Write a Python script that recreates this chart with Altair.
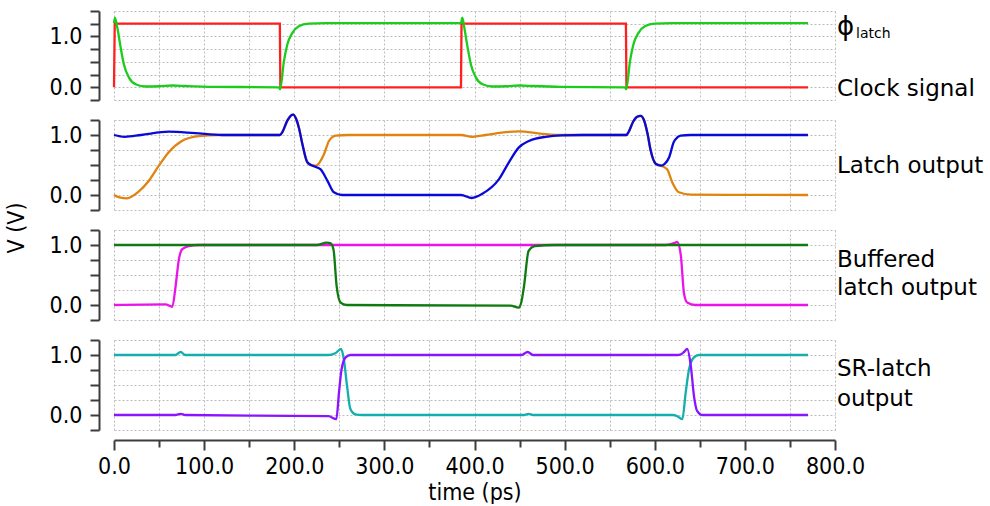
import altair as alt
import pandas as pd

# ---------------- data ----------------
# Panel 1: clock signal (red) and phi_latch (green)
T_CLK = [0, 0.8, 184, 184.6, 385, 385.6, 568, 568.6, 770]
V_CLK = [0, 1.25, 1.25, 0, 0, 1.25, 1.25, 0, 0]

T_PHI = [0, 1, 3.7, 7.4, 11, 16.6, 24, 35, 50, 65, 80, 110, 183, 184.3, 188.6, 192.3, 198, 205, 216, 235, 260,
         385, 386.5, 388.7, 392.4, 396, 401.6, 409, 420, 435, 450, 465, 495, 567, 568.3, 572.6, 576.3, 582, 589,
         600, 619, 770]
V_PHI = [1.26, 1.37, 1.17, 0.78, 0.45, 0.19, 0.06, 0.015, 0.02, 0.035, 0.025, 0.01, 0.0, -0.04, 0.52, 0.84,
         1.07, 1.2, 1.25, 1.26, 1.26,
         1.26, 1.37, 1.17, 0.78, 0.45, 0.19, 0.06, 0.015, 0.02, 0.035, 0.025, 0.01, 0.0, -0.04, 0.52, 0.84, 1.07,
         1.2, 1.25, 1.26, 1.26]

# Panel 2: latch outputs (orange, blue)
T_LQB = [0, 6, 14.6, 26, 38.3, 49.4, 60.5, 75.3, 93.8, 116, 184, 186.7, 192.3, 196, 199, 202, 205, 209, 214.5,
         220, 224, 233, 238.5, 246, 260, 385, 397.6, 412.4, 430, 449, 475, 497, 568.5, 571, 576, 580, 584.4, 588,
         592, 595.5, 601, 606.6, 613.7, 619.5, 626.8, 640, 770]
V_LQB = [0.0, -0.04, -0.055, 0.04, 0.23, 0.48, 0.71, 0.9, 0.98, 1.0, 1.0, 1.045, 1.24, 1.32, 1.34, 1.27, 1.13,
         0.85, 0.545, 0.49, 0.49, 0.68, 0.9, 0.99, 1.0, 1.0, 0.97, 1.0, 1.04, 1.06, 1.02, 1.0, 1.0, 1.05, 1.22,
         1.3, 1.32, 1.25, 1.02, 0.74, 0.52, 0.49, 0.43, 0.21, 0.045, 0.005, 0.0]

T_LQ = [0, 12, 30, 61, 90, 120, 184, 186.7, 192.3, 196, 199, 202, 205, 209, 214.5, 220, 229, 236.7, 244, 253,
        270, 385, 397, 408.7, 427, 438, 449, 460.4, 479, 497, 520, 568.5, 571, 576, 580, 584.4, 588, 592, 595.5,
        601, 606.6, 611, 616, 621, 625, 628.7, 640, 770]
V_LQ = [1.0, 0.97, 1.0, 1.055, 1.03, 1.0, 1.0, 1.045, 1.24, 1.32, 1.34, 1.27, 1.13, 0.85, 0.545, 0.49, 0.43,
        0.24, 0.045, 0.0, 0.0, 0.0, -0.05, 0.02, 0.26, 0.54, 0.79, 0.9, 0.97, 0.995, 1.0, 1.0, 1.05, 1.22, 1.3,
        1.32, 1.25, 1.02, 0.74, 0.52, 0.49, 0.52, 0.63, 0.88, 0.96, 0.99, 1.0, 1.0]

# Panel 3: buffered latch outputs (magenta, dark green)
T_BQB = [0, 57, 64.7, 68.4, 72, 75.8, 83, 94, 612, 621, 625, 629, 632.4, 636, 645, 770]
V_BQB = [0.0, 0.01, -0.03, 0.32, 0.76, 0.93, 0.98, 1.0, 1.0, 1.03, 1.05, 0.82, 0.2, 0.04, 0.0, 0.0]

T_BQ = [0, 225, 236, 240, 243.5, 247, 251.5, 258, 440, 449, 452, 455, 460, 467, 489, 770]
V_BQ = [1.0, 1.0, 1.04, 1.03, 0.93, 0.32, 0.04, 0.0, -0.01, -0.045, 0.05, 0.32, 0.9, 0.98, 1.0, 1.0]

# Panel 4: SR-latch outputs (cyan, purple)
T_SRQB = [0, 68, 74, 79, 238, 245.5, 252, 255, 258.6, 262.3, 268, 275, 455, 460, 465, 620, 625, 630.6, 634.3,
          638, 643.5, 649, 770]
V_SRQB = [1.0, 1.0, 1.05, 1.0, 1.0, 1.03, 1.1, 0.93, 0.48, 0.1, 0.01, 0.0, 0.0, 0.02, 0.0, 0.0, -0.02, -0.07,
          0.37, 0.76, 0.96, 1.0, 1.0]

T_SRQ = [0, 68, 74, 79, 238, 246.7, 249.6, 252.5, 257, 262.3, 270, 452, 459, 465, 625, 629, 632.4, 636, 640,
         643.5, 647, 653, 770]
V_SRQ = [0.0, 0.0, 0.02, 0.0, -0.02, -0.07, 0.37, 0.76, 0.96, 1.0, 1.0, 1.0, 1.05, 1.0, 1.0, 1.01, 1.05, 1.1,
         0.82, 0.32, 0.07, 0.0, 0.0]

LABELS = ["Clock signal", "Latch output", "Buffered", "latch output", "SR-latch", "output"]
PHI = "\u03d5"
PHI_SUB = "latch"
Y_TITLE = "V (V)"
X_TITLE = "time (ps)"

COLORS = {
    "clk": "#ff1f1f", "phi": "#1ccc1c", "lqb": "#e08410", "lq": "#0a0ad6",
    "bqb": "#ea14ea", "bq": "#0f7a0f", "srqb": "#14aeae", "srq": "#8a14ff",
}

TICK_FONT = "DejaVu Sans Condensed, Liberation Sans, sans-serif"
LABEL_FONT = "DejaVu Sans"
GRID = "#bdbdbd"
AXC = "#3c3c3c"
W = 721
LW = 2.3


def yaxis(lo, hi):
    vals = []
    v = lo
    while v <= hi + 1e-9:
        vals.append(round(v, 2))
        v += 0.25
    return alt.Y(
        "v:Q",
        scale=alt.Scale(domain=[lo, hi], nice=False, zero=False),
        axis=alt.Axis(
            values=vals, grid=True, gridDash=[2, 2], gridColor=GRID, gridWidth=1,
            domain=True, domainColor=AXC, domainWidth=2, offset=15,
            ticks=True, tickColor=AXC, tickWidth=2, tickSize=9,
            labelExpr="datum.value === 0 || datum.value === 1 ? format(datum.value, '.1f') : ''",
            labelFont=TICK_FONT, labelFontSize=23, labelColor="#000", labelPadding=8,
            title=None,
        ),
    )


XVALS = list(range(0, 801, 50))


def xaxis(bottom=False):
    if bottom:
        ax = alt.Axis(
            values=XVALS, grid=True, gridDash=[2, 2], gridColor=GRID, gridWidth=1,
            domain=True, domainColor=AXC, domainWidth=2, offset=10,
            ticks=True, tickColor=AXC, tickWidth=2,
            tickSize=alt.condition("datum.value % 100 === 0", alt.value(10), alt.value(7)),
            labelExpr="datum.value % 100 === 0 ? format(datum.value, '.1f') : ''",
            labelFont=TICK_FONT, labelFontSize=23, labelColor="#000", labelPadding=5,
            labelFlush=False, labelOverlap=False,
            title=X_TITLE, titleFont=TICK_FONT, titleFontSize=23, titleFontWeight="normal",
            titleColor="#000", titlePadding=3,
        )
    else:
        ax = alt.Axis(
            values=XVALS, grid=True, gridDash=[2, 2], gridColor=GRID, gridWidth=1,
            domain=False, ticks=False, labels=False, title=None,
        )
    return alt.X("t:Q", scale=alt.Scale(domain=[0, 800], nice=False), axis=ax)


def line(t, v, key, x, y, interp="monotone"):
    return alt.Chart(pd.DataFrame({"t": t, "v": v})).mark_line(
        color=COLORS[key], strokeWidth=LW, interpolate=interp
    ).encode(x=x, y=y)


def label(text, px, py, size=23, font=LABEL_FONT, **kw):
    return alt.Chart(pd.DataFrame({"s": [text]})).mark_text(
        align=kw.pop("align", "left"), baseline=kw.pop("baseline", "alphabetic"),
        fontSize=size, font=font, color="#000", **kw
    ).encode(x=alt.value(px), y=alt.value(py), text="s:N")


LX = 723

x1 = xaxis(); y1 = yaxis(-0.25, 1.5)
p1 = alt.layer(
    line(T_CLK, V_CLK, "clk", x1, y1, "linear"),
    line(T_PHI, V_PHI, "phi", x1, y1),
    label(PHI, LX, 24, size=26),
    label(PHI_SUB, LX + 19, 27, size=14),
    label(LABELS[0], LX, 85),
).properties(width=W, height=89)

x2 = xaxis(); y2 = yaxis(-0.25, 1.25)
p2 = alt.layer(
    line(T_LQB, V_LQB, "lqb", x2, y2),
    line(T_LQ, V_LQ, "lq", x2, y2),
    label(LABELS[1], LX, 53),
).properties(width=W, height=90)

x3 = xaxis(); y3 = yaxis(-0.25, 1.25)
p3 = alt.layer(
    line(T_BQB, V_BQB, "bqb", x3, y3),
    line(T_BQ, V_BQ, "bq", x3, y3),
    label(LABELS[2], LX, 37),
    label(LABELS[3], LX, 65),
    label(Y_TITLE, -97, -2, size=23, font=TICK_FONT, angle=270, align="center", baseline="middle"),
).properties(width=W, height=90)

x4 = xaxis(bottom=True); y4 = yaxis(-0.25, 1.25)
p4 = alt.layer(
    line(T_SRQB, V_SRQB, "srqb", x4, y4),
    line(T_SRQ, V_SRQ, "srq", x4, y4),
    label(LABELS[4], LX, 36),
    label(LABELS[5], LX, 66),
).properties(width=W, height=90)

chart = alt.vconcat(p1, p2, p3, p4, spacing=20, bounds="flush").properties(
    padding={"left": 6, "top": 10, "right": 0, "bottom": 0},
    background="white",
).configure_view(stroke=None)

chart.save("out.html", embed_options={"renderer": "svg", "actions": False})
